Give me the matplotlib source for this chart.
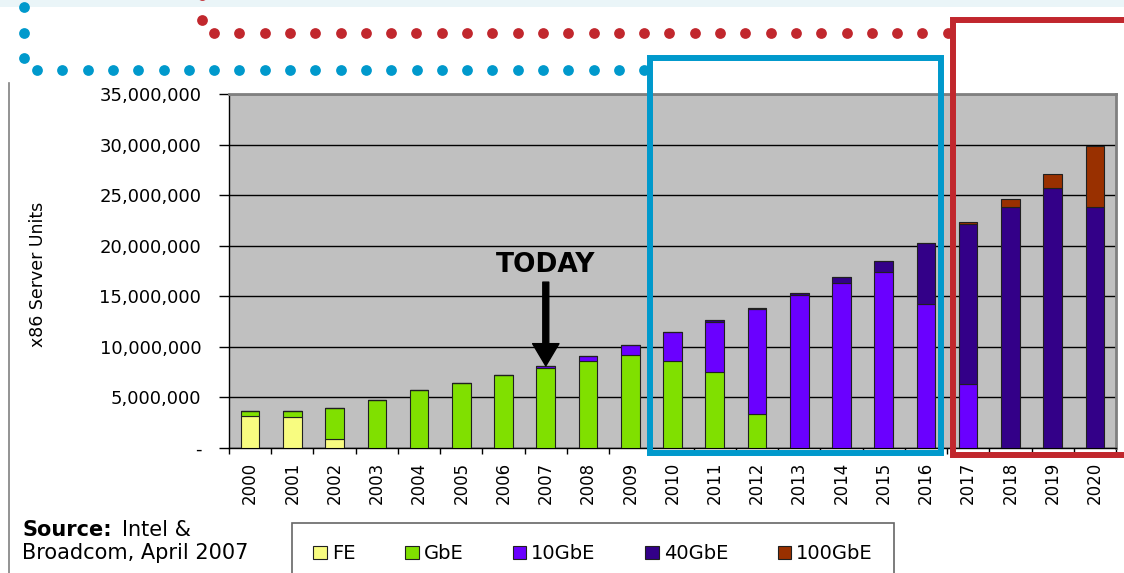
import numpy as np
import matplotlib
matplotlib.use('Agg')
import matplotlib.pyplot as plt
from matplotlib.ticker import FuncFormatter, FixedLocator
from matplotlib.patches import Rectangle

# -------------------------
# Data (millions of x86 server units)
# -------------------------
years = [str(y) for y in range(2000, 2021)]
fe = [3.2, 3.05, 0.9, 0, 0, 0, 0, 0, 0, 0, 0, 0, 0, 0, 0, 0, 0, 0, 0, 0, 0]
gbe = [0.5, 0.6, 3.1, 4.75, 5.7, 6.45, 7.25, 7.9, 8.6, 9.2, 8.6, 7.5, 3.35,
       0, 0, 0, 0, 0, 0, 0, 0]
gbe10 = [0, 0, 0, 0, 0, 0, 0, 0.22, 0.5, 0.95, 2.9, 5.0, 10.35, 15.13,
         16.35, 17.4, 14.2, 6.35, 0, 0, 0]
gbe40 = [0, 0, 0, 0, 0, 0, 0, 0, 0, 0, 0, 0.15, 0.17, 0.16, 0.53, 1.1, 6.1,
         15.8, 23.85, 25.7, 23.85]
gbe100 = [0, 0, 0, 0, 0, 0, 0, 0, 0, 0, 0, 0, 0, 0, 0, 0, 0, 0.2, 0.77,
          1.42, 5.97]

series_names = ['FE', 'GbE', '10GbE', '40GbE', '100GbE']
series_colors = ['#F8FC80', '#80E000', '#6A00FF', '#330088', '#993000']
yticks = [0, 5e6, 10e6, 15e6, 20e6, 25e6, 30e6, 35e6]

W, H = 1124, 573
fig = plt.figure(figsize=(W / 100, H / 100), dpi=100)
fig.patch.set_facecolor('white')

# main plot area in pixel coordinates
left, right, top, bottom = 229, 1116, 94, 448
ax = fig.add_axes([left / W, 1 - bottom / H, (right - left) / W, (bottom - top) / H])
ax.set_facecolor('#C0C0C0')

x = np.arange(len(years))
data = [np.array(s) * 1e6 for s in [fe, gbe, gbe10, gbe40, gbe100]]
base = np.zeros(len(years))
handles = []
for vals, name, col in zip(data, series_names, series_colors):
    b = ax.bar(x, vals, 0.44, bottom=base, color=col, edgecolor='#202020',
               linewidth=0.8, label=name, zorder=3)
    handles.append(b)
    base = base + vals
total = base

ax.set_xlim(-0.5, len(years) - 0.5)
ax.set_ylim(0, 35e6)
ax.yaxis.set_major_locator(FixedLocator(yticks))
ax.yaxis.set_major_formatter(FuncFormatter(lambda v, p: '-' if v == 0 else f'{int(v):,}'))
ax.grid(axis='y', color='black', linewidth=1.0, zorder=1)
ax.set_axisbelow(True)

ax.set_xticks(x)
ax.set_xticklabels(years, rotation=90, fontsize=12)
ax.set_xticks(np.arange(len(years) + 1) - 0.5, minor=True)
ax.tick_params(axis='x', which='major', length=0, pad=10)
ax.tick_params(axis='x', which='minor', length=4, width=1, direction='out')
ax.tick_params(axis='y', length=7, width=1, pad=13, labelsize=13, direction='out')

for s in ['top', 'right']:
    ax.spines[s].set_color('#808080')
    ax.spines[s].set_linewidth(2)
for s in ['left', 'bottom']:
    ax.spines[s].set_color('black')
    ax.spines[s].set_linewidth(1)

fig.text(38 / W, 1 - 274 / H, 'x86 Server Units', rotation=90, ha='center',
         va='center', fontsize=12.5)

# TODAY marker above 2007
i07 = years.index('2007')
ax.text(i07, 18.1e6, 'TODAY', ha='center', va='center', fontsize=19,
        fontweight='bold', zorder=5)
ax.annotate('', xy=(i07, total[i07]), xytext=(i07, 16.4e6),
            arrowprops=dict(width=4.3, headwidth=19, headlength=16,
                            color='black', shrink=0), zorder=5)

# legend, box runs off the bottom of the picture
leg = fig.legend(handles=handles, labels=series_names, loc='upper left',
                 bbox_to_anchor=(292 / W, 1 - 523 / H), ncol=5, fontsize=14,
                 frameon=True, fancybox=False, borderpad=1.1,
                 handlelength=0.7, handleheight=0.7, handletextpad=0.25,
                 columnspacing=2.55, borderaxespad=0)
leg.get_frame().set_edgecolor('#404040')
leg.get_frame().set_linewidth(1.2)

# source note
fig.text(22 / W, 1 - 530 / H, 'Source:', fontsize=15, fontweight='bold', va='center')
fig.text(122 / W, 1 - 530 / H, 'Intel &', fontsize=15, va='center')
fig.text(22 / W, 1 - 553 / H, 'Broadcom, April 2007', fontsize=15, va='center')

# -------------------------
# slide decorations (pixel coordinates)
# -------------------------
ov = fig.add_axes([0, 0, 1, 1], zorder=10)
ov.set_xlim(0, W)
ov.set_ylim(H, 0)
ov.axis('off')
ov.patch.set_alpha(0)

ov.add_patch(Rectangle((0, 0), W, 7, facecolor='#EAF5F8', edgecolor='none', zorder=0))
ov.plot([9, 9], [83, H], color='#808080', linewidth=1.2)

blue = '#0099CC'
red = '#C1272D'
bx = list(37 + 25.3 * np.arange(25))
ov.scatter([24, 24, 24] + bx, [7, 33, 58] + [70] * len(bx), s=60, color=blue,
           linewidths=0, zorder=2)
rx = list(214 + 25.3 * np.arange(30))
ov.scatter([202, 202] + rx, [-5, 20] + [33] * len(rx), s=60, color=red,
           linewidths=0, zorder=2)

ov.add_patch(Rectangle((650, 58), 291, 395, fill=False, edgecolor=blue,
                       linewidth=4.3, zorder=3))
ov.plot([W + 10, 953, 953, W + 10], [20, 20, 455, 455], color=red,
        linewidth=4.3, solid_joinstyle='miter', zorder=3)

fig.savefig('out.png', dpi=100)
